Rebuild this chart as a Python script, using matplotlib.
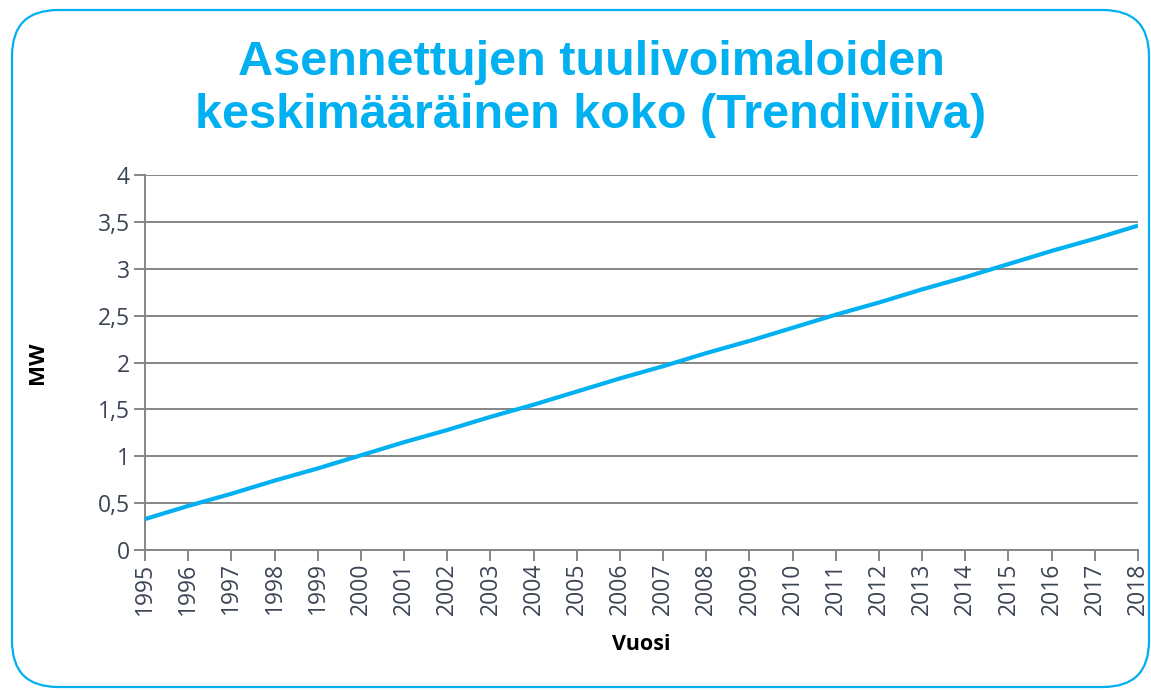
import numpy as np
import matplotlib.pyplot as plt
from matplotlib.patches import FancyBboxPatch

# Trend line values (MW per year)
years = list(range(1995, 2019))
mw = [0.33, 0.47, 0.60, 0.74, 0.87, 1.01, 1.15, 1.28, 1.42, 1.55, 1.69, 1.83,
      1.96, 2.10, 2.23, 2.37, 2.51, 2.64, 2.78, 2.91, 3.05, 3.19, 3.32, 3.46]
yticks = [0, 0.5, 1, 1.5, 2, 2.5, 3, 3.5, 4]
ytick_labels = ['0', '0,5', '1', '1,5', '2', '2,5', '3', '3,5', '4']

blue = '#00B0F0'
grey = '#868686'
txt = '#3B4453'

W, H = 1151, 690
fig = plt.figure(figsize=(W/100, H/100), dpi=100)
ax = fig.add_axes([145/W, 1-550/H, (1138-145)/W, (550-175)/H])

# rounded frame around the chart
frame = FancyBboxPatch((12/W, 3/H), (1149-12)/W, (680-3)/H,
                       boxstyle='round,pad=0,rounding_size=0.04',
                       transform=fig.transFigure, fill=False,
                       edgecolor=blue, linewidth=1.6, mutation_aspect=W/H)
fig.patches.append(frame)

ax.plot(years, mw, color=blue, linewidth=3, solid_capstyle='butt', zorder=3)

ax.set_xlim(1995, 2018)
ax.set_ylim(0, 4)
ax.set_xticks(years)
ax.set_xticklabels([str(y) for y in years], rotation=90)
ax.set_yticks(yticks)
ax.set_yticklabels(ytick_labels)
ax.grid(axis='y', color=grey, linewidth=1.4)
ax.set_axisbelow(True)

for s in ['top', 'right']:
    ax.spines[s].set_visible(False)
for s in ['left', 'bottom']:
    ax.spines[s].set_color(grey)
    ax.spines[s].set_linewidth(1.4)

ax.tick_params(axis='both', colors=grey, width=1.4, length=8,
               labelcolor=txt, labelsize=16.5, pad=3)
ax.tick_params(axis='x', pad=1)
for lab in ax.get_xticklabels() + ax.get_yticklabels():
    lab.set_fontfamily('Open Sans')

ax.set_ylabel('MW', fontsize=16, fontweight='bold', color='black',
              fontfamily='Open Sans', labelpad=36)
ax.set_xlabel('Vuosi', fontsize=15.5, fontweight='bold', color='black',
              fontfamily='Open Sans', labelpad=14)

fig.text(591/W, 1-89/H, 'Asennettujen tuulivoimaloiden\nkeskimääräinen koko (Trendiviiva)',
         ha='center', va='center', fontsize=35, fontweight='bold', color=blue,
         fontfamily='Liberation Sans', linespacing=1.22)

fig.savefig('out.png', dpi=100)
